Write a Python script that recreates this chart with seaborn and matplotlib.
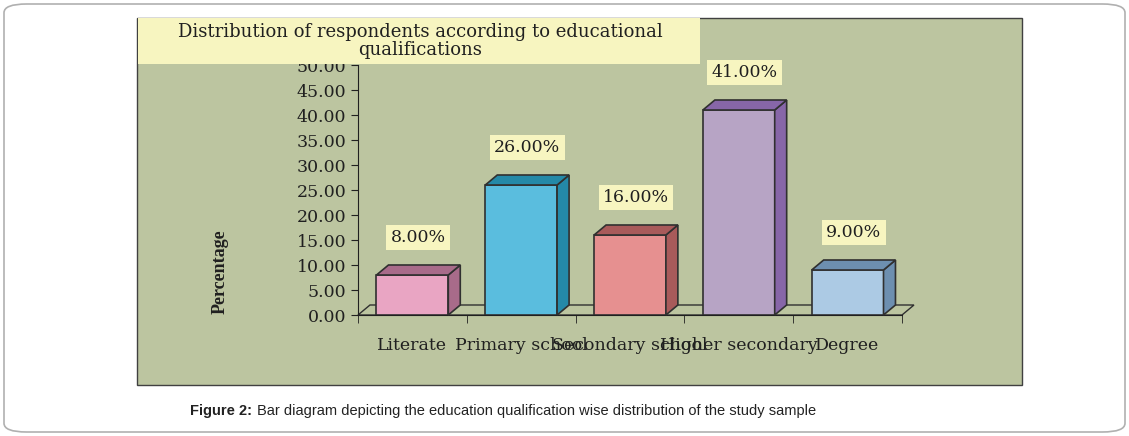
import numpy as np
import pandas as pd
import matplotlib
matplotlib.use("Agg")
import matplotlib.pyplot as plt
import seaborn as sns
from matplotlib.patches import Polygon, Rectangle, FancyBboxPatch

# data
categories = ["Literate", "Primary school", "Secondary school", "Higher secondary", "Degree"]
values = [8.0, 26.0, 16.0, 41.0, 9.0]
front_colors = ["#f49ac2", "#44c8f4", "#f48282", "#b89ecb", "#a3cbed"]
side_colors = ["#a86b8a", "#2489a8", "#a85a5a", "#8766a8", "#6d8fb0"]

df = pd.DataFrame({"cat": categories, "val": values})

sns.set_style("white")
plt.rcParams["font.family"] = ["DejaVu Serif"]

fig = plt.figure(figsize=(11.29, 4.36), dpi=100)
W, H = 1129, 436

# outer frame
fig.patches.append(FancyBboxPatch((4 / W, 4 / H), 1 - 8 / W, 1 - 8 / H,
                                  boxstyle="round,pad=0,rounding_size=0.02",
                                  transform=fig.transFigure, facecolor="white",
                                  edgecolor="#b0b0b0", lw=1.2, zorder=0))
# green panel
fig.patches.append(Rectangle((137 / W, 1 - 385 / H), (1022 - 137) / W, (385 - 18) / H,
                             transform=fig.transFigure, facecolor="#bcc5a0",
                             edgecolor="#404040", lw=1, zorder=1))

ax = fig.add_axes([358 / W, 1 - 315 / H, 544 / W, 250 / H])
ax.set_zorder(2)
ax.set_facecolor("none")
sns.barplot(data=df, x="cat", y="val", hue="cat", palette=front_colors, legend=False,
            width=0.66, edgecolor="#303030", linewidth=1.2, ax=ax, zorder=3)
ax.set_xlim(-0.5, 4.5)
ax.set_ylim(0, 50)

dx, dy = 0.11, 2.0
# floor
ax.add_patch(Polygon([(-0.5, 0), (4.5, 0), (4.5 + dx, dy), (-0.5 + dx, dy)], closed=True,
                     facecolor="none", edgecolor="#303030", lw=1, clip_on=False, zorder=2))

for i, p in enumerate(ax.patches[:len(values)]):
    x0, w, h = p.get_x(), p.get_width(), p.get_height()
    x1 = x0 + w
    side = Polygon([(x1, 0), (x1 + dx, dy), (x1 + dx, h + dy), (x1, h)], closed=True,
                   facecolor=side_colors[i], edgecolor="#303030", lw=1.2, clip_on=False, zorder=3)
    top = Polygon([(x0, h), (x0 + dx, h + dy), (x1 + dx, h + dy), (x1, h)], closed=True,
                  facecolor=side_colors[i], edgecolor="#303030", lw=1.2, clip_on=False, zorder=3)
    ax.add_patch(side)
    ax.add_patch(top)
    ax.text(x0 + w / 2 + dx / 2, h + dy + 5.5, f"{values[i]:.2f}%", ha="center", va="center",
            fontsize=12.5, color="#202020", zorder=5,
            bbox=dict(boxstyle="square,pad=0.25", facecolor="#f7f5c0", edgecolor="none"))

for s in ["top", "right"]:
    ax.spines[s].set_visible(False)
ax.spines["left"].set_color("#202020")
ax.spines["bottom"].set_color("#202020")
ax.set_yticks(np.arange(0, 51, 5))
ax.set_yticklabels([f"{v:.2f}" for v in np.arange(0, 51, 5)], fontsize=12.5, color="#202020")
ax.tick_params(axis="y", direction="out", length=5, color="#202020", left=True)
ax.set_xticks(np.arange(-0.5, 4.6, 1), minor=True)
ax.tick_params(axis="x", which="minor", direction="out", length=6, color="#202020", bottom=True)
ax.set_xticks(range(len(categories)))
ax.set_xticklabels(categories, fontsize=12.5, color="#202020")
ax.tick_params(axis="x", which="major", length=0, pad=16)
ax.set_xlabel("")
ax.set_ylabel("")

fig.text(220 / W, 1 - 272 / H, "Percentage", rotation=90, ha="center", va="center",
         fontsize=13, fontweight="bold", family=["Liberation Serif", "DejaVu Serif"],
         color="#202020")

# title box
fig.patches.append(Rectangle((138 / W, 1 - 64 / H), (700 - 138) / W, 46 / H,
                             transform=fig.transFigure, facecolor="#f7f5c0",
                             edgecolor="none", zorder=4))
fig.text(420 / W, 1 - 41 / H, "Distribution of respondents according to educational\nqualifications",
         ha="center", va="center", fontsize=13, color="#202020", linespacing=0.95, zorder=5)

fig.text(190 / W, 1 - 411 / H, "Figure 2:", ha="left", va="center", fontsize=10.5,
         fontweight="bold", family=["Liberation Sans", "DejaVu Sans"], color="#222222")
fig.text(257 / W, 1 - 411 / H,
         "Bar diagram depicting the education qualification wise distribution of the study sample",
         ha="left", va="center", fontsize=10.5, family=["Liberation Sans", "DejaVu Sans"],
         color="#222222")

fig.savefig("out.png", dpi=100)
